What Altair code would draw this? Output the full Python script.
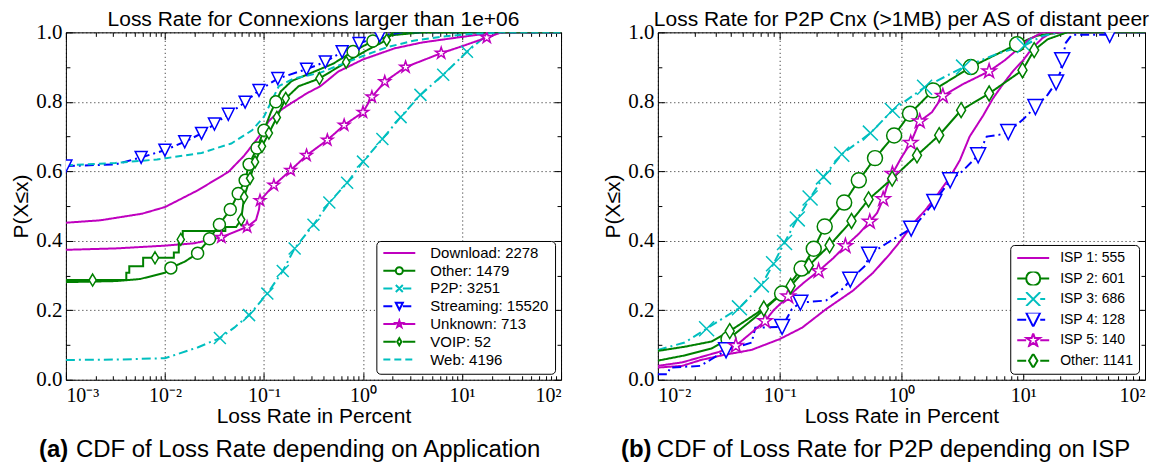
import math
import altair as alt
import pandas as pd

# ---------------------------------------------------------------- data ----
# x values are stored as log10(loss rate in percent), y = P(X<=x)
A_TITLE = "Loss Rate for Connexions larger than 1e+06"
A_TAG = "(a)"
A_CAPTION = "CDF of Loss Rate depending on Application"
A_NAMES = ["Download: 2278", "Other: 1479", "P2P: 3251", "Streaming: 15520",
           "Unknown: 713", "VOIP: 52", "Web: 4196"]

a_download_lx = [-3, -2.65, -2.23, -2.0, -1.67, -1.36, -1.2, -1.05, -0.95, -0.85, -0.78,
                 -0.57, -0.43, -0.25, 0, 0.32, 0.6, 0.9, 1.08, 1.26, 1.45, 2]
a_download_y = [0.452, 0.459, 0.478, 0.497, 0.545, 0.598, 0.645, 0.70, 0.745, 0.772, 0.786,
                0.824, 0.845, 0.887, 0.922, 0.954, 0.971, 0.983, 0.99, 0.997, 1.0, 1.0]
a_download_marks = []

a_other_lx = [-3, -2.5, -2.25, -2.0, -1.94, -1.8, -1.67, -1.55, -1.45, -1.34, -1.26, -1.19, -1.15,
              -1.07, -1.0, -0.93, -0.88, -0.83, -0.72, -0.55, -0.3, -0.1, 0.1, 0.3, 0.6, 2]
a_other_y = [0.281, 0.284, 0.29, 0.308, 0.322, 0.34, 0.364, 0.406, 0.447, 0.49, 0.536, 0.574, 0.62,
             0.667, 0.718, 0.77, 0.80, 0.83, 0.86, 0.88, 0.91, 0.945, 0.975, 0.992, 1.0, 1.0]
a_other_marks = [4, 6, 7, 8, 9, 10, 11, 12, 13, 14, 16, 21, 22]

a_p2p_lx = [-3, -2.5, -2.0, -1.67, -1.445, -1.3, -1.15, -0.966, -0.81, -0.69, -0.5, -0.34, -0.16,
            0.0, 0.196, 0.38, 0.58, 0.81, 1.05, 1.2, 1.33, 2]
a_p2p_y = [0.057, 0.058, 0.062, 0.093, 0.12, 0.15, 0.186, 0.248, 0.313, 0.378, 0.446, 0.51, 0.567,
           0.628, 0.693, 0.756, 0.82, 0.878, 0.944, 0.98, 1.0, 1.0]
a_p2p_marks = [4, 6, 7, 8, 9, 10, 11, 12, 13, 14, 15, 16, 17, 18]

a_streaming_lx = [-3, -2.5, -2.24, -2.0, -1.8, -1.63, -1.5, -1.36, -1.19, -1.05, -0.86, -0.57,
                  -0.38, -0.21, -0.04, 0.17, 0.4, 2]
a_streaming_y = [0.615, 0.62, 0.64, 0.661, 0.685, 0.709, 0.736, 0.764, 0.799, 0.833, 0.867, 0.894,
                 0.915, 0.944, 0.968, 0.99, 1.0, 1.0]
a_streaming_marks = [0, 2, 3, 4, 5, 6, 7, 8, 9, 10, 11, 12, 13, 14, 15]

a_unknown_lx = [-3, -2.5, -2.0, -1.7, -1.43, -1.3, -1.17, -1.08, -1.05, -1.04, -0.9, -0.73, -0.57,
                -0.36, -0.19, 0.0, 0.09, 0.22, 0.43, 0.79, 1.0, 1.25, 1.4, 2]
a_unknown_y = [0.374, 0.378, 0.386, 0.393, 0.41, 0.425, 0.44, 0.46, 0.49, 0.516, 0.56, 0.603, 0.646,
               0.69, 0.733, 0.77, 0.814, 0.858, 0.90, 0.94, 0.96, 0.985, 1.0, 1.0]
a_unknown_marks = [4, 6, 9, 10, 11, 12, 13, 14, 15, 16, 17, 18, 19, 21]

a_voip_lx = [-3, -2.73, -2.39, -2.39, -2.36, -2.36, -2.22, -2.22, -2.1, -1.91, -1.91, -1.86, -1.86,
             -1.84, -1.82, -1.82, -1.39, -1.39, -1.28, -1.23, -1.2, -1.14, -1.09, -1.02, -0.95,
             -0.87, -0.78, -0.65, -0.44, -0.17, 0.05, 0.24, 0.3, 2]
a_voip_y = [0.287, 0.287, 0.287, 0.308, 0.308, 0.327, 0.327, 0.351, 0.351, 0.351, 0.366, 0.366, 0.404,
            0.404, 0.404, 0.428, 0.428, 0.44, 0.44, 0.461, 0.526, 0.58, 0.627, 0.672, 0.71,
            0.755, 0.81, 0.845, 0.867, 0.914, 0.95, 0.978, 1.0, 1.0]
a_voip_marks = [1, 8, 13, 19, 20, 21, 22, 23, 24, 25, 26, 28, 29, 31]

a_web_lx = [-3, -2.5, -2.08, -1.63, -1.33, -1.12, -1.0, -0.91, -0.85, -0.71, -0.43, -0.2, 0.0, 0.24,
            0.51, 0.8, 1.08, 1.4, 2]
a_web_y = [0.617, 0.624, 0.634, 0.653, 0.68, 0.718, 0.757, 0.81, 0.845, 0.866, 0.884, 0.91, 0.932,
           0.957, 0.976, 0.988, 0.995, 1.0, 1.0]
a_web_marks = []

B_TITLE = "Loss Rate for P2P Cnx (>1MB) per AS of distant peer"
B_TAG = "(b)"
B_CAPTION = "CDF of Loss Rate for P2P depending on ISP"
B_NAMES = ["ISP 1: 555", "ISP 2: 601", "ISP 3: 686", "ISP 4: 128", "ISP 5: 140", "Other: 1141"]

b_isp1_lx = [-2, -1.8, -1.645, -1.465, -1.23, -1.0, -0.815, -0.62, -0.4, -0.233, -0.1, 0.0, 0.1, 0.2,
             0.3, 0.4, 0.48, 0.56, 0.67, 0.75, 0.836, 0.92, 1.0, 1.08, 1.16, 1.22, 1.35, 2]
b_isp1_y = [0.035, 0.04, 0.057, 0.071, 0.086, 0.117, 0.15, 0.203, 0.256, 0.308, 0.36, 0.403, 0.451,
            0.49, 0.535, 0.584, 0.632, 0.70, 0.76, 0.809, 0.852, 0.89, 0.92, 0.957, 0.984, 0.997,
            1.0, 1.0]
b_isp1_marks = []

b_isp2_lx = [-2, -1.78, -1.56, -1.42, -1.2, -0.98, -0.82, -0.72, -0.63, -0.47, -0.35, -0.217, -0.06,
             0.07, 0.26, 0.57, 0.95, 1.11, 1.3, 2]
b_isp2_y = [0.055, 0.07, 0.09, 0.117, 0.18, 0.248, 0.32, 0.377, 0.441, 0.51, 0.574, 0.638, 0.703,
            0.766, 0.833, 0.9, 0.966, 0.99, 1.0, 1.0]
b_isp2_marks = [3, 5, 6, 7, 8, 9, 10, 11, 12, 13, 14, 15, 16]

b_isp3_lx = [-2, -1.78, -1.6, -1.33, -1.15, -1.05, -0.96, -0.855, -0.75, -0.64, -0.49, -0.255,
             -0.075, 0.19, 0.51, 0.8, 1.01, 1.16, 1.3, 2]
b_isp3_y = [0.086, 0.107, 0.147, 0.207, 0.273, 0.334, 0.395, 0.463, 0.523, 0.584, 0.649, 0.71,
            0.775, 0.842, 0.9, 0.94, 0.962, 0.99, 1.0, 1.0]
b_isp3_marks = [2, 3, 4, 5, 6, 7, 8, 9, 10, 11, 12, 13, 14, 16]

b_isp4_lx = [-2, -1.92, -1.9, -1.65, -1.56, -1.44, -1.23, -1.2, -0.98, -0.9, -0.83, -0.62, -0.47,
             -0.42, -0.29, -0.265, -0.12, 0.08, 0.15, 0.27, 0.4, 0.5, 0.63, 0.7, 0.8, 0.877, 1.0,
             1.1, 1.2, 1.27, 1.31, 1.32, 1.35, 1.4, 1.71, 1.76, 2]
b_isp4_y = [0.016, 0.016, 0.035, 0.04, 0.059, 0.085, 0.107, 0.15, 0.152, 0.203, 0.222, 0.228, 0.265,
            0.288, 0.331, 0.36, 0.393, 0.435, 0.46, 0.512, 0.574, 0.60, 0.646, 0.70, 0.705, 0.713,
            0.75, 0.785, 0.82, 0.856, 0.89, 0.92, 0.97, 0.993, 0.993, 1.0, 1.0]
b_isp4_marks = [5, 8, 10, 13, 15, 17, 19, 20, 22, 25, 27, 29, 31, 34]

b_isp5_lx = [-2, -1.8, -1.6, -1.5, -1.36, -1.25, -1.12, -1.05, -0.93, -0.8, -0.68, -0.56, -0.46,
             -0.35, -0.26, -0.2, -0.15, -0.12, -0.074, 0.0, 0.076, 0.15, 0.25, 0.34, 0.5, 0.72,
             0.85, 0.95, 1.05, 1.16, 2]
b_isp5_y = [0.04, 0.05, 0.07, 0.08, 0.098, 0.13, 0.169, 0.2, 0.24, 0.28, 0.313, 0.35, 0.385, 0.42,
            0.455, 0.48, 0.52, 0.555, 0.593, 0.64, 0.682, 0.744, 0.77, 0.817, 0.85, 0.888, 0.92,
            0.95, 0.98, 1.0, 1.0]
b_isp5_marks = [4, 6, 8, 10, 12, 14, 16, 18, 20, 21, 23, 25]

b_other_lx = [-2, -1.78, -1.56, -1.41, -1.13, -0.91, -0.76, -0.59, -0.41, -0.27, -0.076, 0.128,
              0.31, 0.49, 0.72, 0.994, 1.09, 1.2, 1.36, 2]
b_other_y = [0.083, 0.095, 0.11, 0.14, 0.205, 0.27, 0.329, 0.387, 0.457, 0.519, 0.579, 0.646,
             0.704, 0.776, 0.824, 0.891, 0.949, 0.98, 1.0, 1.0]
b_other_marks = [3, 4, 5, 6, 7, 8, 9, 10, 11, 12, 13, 14, 15, 16]

A_SERIES = [(a_download_lx, a_download_y, a_download_marks), (a_other_lx, a_other_y, a_other_marks),
            (a_p2p_lx, a_p2p_y, a_p2p_marks), (a_streaming_lx, a_streaming_y, a_streaming_marks),
            (a_unknown_lx, a_unknown_y, a_unknown_marks), (a_voip_lx, a_voip_y, a_voip_marks),
            (a_web_lx, a_web_y, a_web_marks)]
B_SERIES = [(b_isp1_lx, b_isp1_y, b_isp1_marks), (b_isp2_lx, b_isp2_y, b_isp2_marks),
            (b_isp3_lx, b_isp3_y, b_isp3_marks), (b_isp4_lx, b_isp4_y, b_isp4_marks),
            (b_isp5_lx, b_isp5_y, b_isp5_marks), (b_other_lx, b_other_y, b_other_marks)]

# ---------------------------------------------------------------- style ---
MAG, GRN, CYN, BLU = "#bf00bf", "#008000", "#00bfbf", "#0000ff"
SOLID, DASHED, DASHDOT = [1, 0], [7, 4], [9, 4, 2, 4]
A_STYLE = [(MAG, SOLID, None), (GRN, SOLID, "circle"), (CYN, DASHDOT, "x"), (BLU, DASHDOT, "tri"),
           (MAG, SOLID, "star"), (GRN, SOLID, "diamond"), (CYN, DASHED, None)]
B_STYLE = [(MAG, SOLID, None), (GRN, SOLID, "circle"), (CYN, DASHDOT, "x"), (BLU, DASHDOT, "tri"),
           (MAG, SOLID, "star"), (GRN, SOLID, "diamond")]

SANS = "Liberation Sans"
SERIF = "Liberation Serif"
H = 348


def marker_path(kind, s=1.0):
    f = lambda v: f"{v * s:.3f}"
    if kind == "circle":
        return f"M{f(1)},0A{f(1)},{f(1)},0,1,1,{f(-1)},0A{f(1)},{f(1)},0,1,1,{f(1)},0Z"
    if kind == "x":
        return f"M{f(-1)},{f(-1)}L{f(1)},{f(1)}M{f(-1)},{f(1)}L{f(1)},{f(-1)}"
    if kind == "tri":
        return f"M{f(-1)},{f(-1)}L{f(1)},{f(-1)}L0,{f(1)}Z"
    if kind == "diamond":
        return f"M0,{f(-1)}L{f(0.6)},0L0,{f(1)}L{f(-0.6)},0Z"
    if kind == "star":
        pts = []
        for k in range(10):
            ang = -math.pi / 2 + k * math.pi / 5
            rr = 1.0 if k % 2 == 0 else 0.382
            pts.append(f"{rr * s * math.cos(ang):.3f},{rr * s * math.sin(ang):.3f}")
        return "M" + "L".join(pts) + "Z"
    return ""


def legend_path(kind, dash, r, unit=16.0):
    gap = r if kind else 0.0
    pattern = [d / unit for d in dash] if dash != SOLID else [2.0, 0.0]
    segs, pos, k = [], -1.0, 0
    while pos < 1.0:
        ln = pattern[k % len(pattern)]
        if k % 2 == 0 and ln > 0:
            a, b = pos, min(pos + ln, 1.0)
            for lo, hi in ((a, min(b, -gap)), (max(a, gap), b)):
                if hi - lo > 1e-3:
                    segs.append(f"M{lo:.3f},0H{hi:.3f}")
        pos += ln if ln > 0 else 0.01
        k += 1
    return "".join(segs) + (marker_path(kind, r) if kind else "")


def panel(names, series, styles, xmin, width, title, tag, caption, msize, leg_r,
          leg_clip, leg_rowpad, leg_font, leg_laboff, tag_x, cap_x):
    lines, pts = [], []
    for name, (lx, ys, marks) in zip(names, series):
        for i, (a, b) in enumerate(zip(lx, ys)):
            lines.append({"series": name, "i": i, "x": 10 ** a, "y": b})
        for i in marks:
            pts.append({"series": name, "x": 10 ** lx[i], "y": ys[i]})
    line_df, pt_df = pd.DataFrame(lines), pd.DataFrame(pts)
    blank = pd.DataFrame({"series": names, "x": [1.0] * len(names), "y": [0.5] * len(names)})
    one = pd.DataFrame({"k": [0]})

    colors = [s[0] for s in styles]
    dashes = [s[1] for s in styles]
    shapes = [marker_path(s[2]) if s[2] else "circle" for s in styles]
    leg_shapes = [legend_path(s[2], s[1], leg_r) for s in styles]

    xs = alt.Scale(type="log", domain=[10 ** xmin, 100], nice=False)
    ys = alt.Scale(domain=[0, 1], nice=False, zero=False)
    x_major = [10 ** e for e in range(xmin, 3)]
    x_minor = [m * 10 ** e for e in range(xmin, 2) for m in range(2, 10)]
    y_major = [0, 0.2, 0.4, 0.6, 0.8, 1.0]
    y_minor = [0.1, 0.3, 0.5, 0.7, 0.9]

    xaxis = alt.Axis(values=x_major, grid=True, gridColor="black", gridDash=[1, 3], gridWidth=0.9,
                     ticks=False, domain=False, labelFont=SERIF, labelFontSize=20, labelColor="black",
                     labelPadding=6,
                     labelExpr="['10⁻³','10⁻²','10⁻¹','10⁰','10¹','10²'][round(log(datum.value)/LN10)+3]",
                     title="Loss Rate in Percent", titleFont=SANS, titleFontSize=21,
                     titleFontWeight="normal", titleColor="black", titlePadding=0, orient="bottom")
    yaxis = alt.Axis(values=y_major, format=".1f", grid=True, gridColor="black", gridDash=[1, 3],
                     gridWidth=0.9, ticks=False, domain=False, labelFont=SERIF, labelFontSize=21,
                     labelColor="black", labelPadding=4, title="P(X≤x)", titleFont=SANS,
                     titleFontSize=21, titleFontWeight="normal", titleColor="black", titlePadding=4,
                     orient="left")

    cscale = alt.Scale(domain=names, range=colors)
    line_layer = alt.Chart(line_df).mark_line(strokeWidth=2, clip=True).encode(
        x=alt.X("x:Q", scale=xs, axis=xaxis),
        y=alt.Y("y:Q", scale=ys, axis=yaxis),
        color=alt.Color("series:N", scale=cscale, legend=None),
        strokeDash=alt.StrokeDash("series:N", scale=alt.Scale(domain=names, range=dashes), legend=None),
        order=alt.Order("i:Q"),
    )
    pt_layer = alt.Chart(pt_df).mark_point(filled=False, fill="white", fillOpacity=1, opacity=1,
                                           strokeWidth=1.5, size=msize, clip=True).encode(
        x=alt.X("x:Q", scale=xs, axis=None),
        y=alt.Y("y:Q", scale=ys, axis=None),
        color=alt.Color("series:N", scale=cscale, legend=None),
        shape=alt.Shape("series:N", scale=alt.Scale(domain=names, range=shapes), legend=None),
    )
    leg = alt.Legend(title=None, orient="bottom-right", offset=6, fillColor="white",
                     strokeColor="black", cornerRadius=4, padding=6, labelFont=SANS,
                     labelFontSize=leg_font, labelColor="black", symbolSize=1024,
                     symbolStrokeWidth=2, symbolFillColor="white", clipHeight=leg_clip,
                     rowPadding=leg_rowpad, labelOffset=leg_laboff, symbolOpacity=1)
    leg_layer = alt.Chart(blank).mark_point(filled=False, fill="white", opacity=1, strokeWidth=2).encode(
        x=alt.X("x:Q", scale=xs, axis=None),
        y=alt.Y("y:Q", scale=ys, axis=None),
        color=alt.Color("series:N", scale=cscale, legend=leg),
        shape=alt.Shape("series:N", scale=alt.Scale(domain=names, range=leg_shapes), legend=leg),
    ).transform_filter("false")

    def ticks(xv, yv, xo, yo, sz):
        ax = alt.Axis(orient=xo, values=xv, labels=False, domain=False, grid=False, ticks=True,
                      tickSize=sz, offset=-sz, tickColor="black", tickWidth=1, title=None)
        ay = alt.Axis(orient=yo, values=yv, labels=False, domain=False, grid=False, ticks=True,
                      tickSize=sz, offset=-sz, tickColor="black", tickWidth=1, title=None)
        return alt.Chart(blank).mark_point(opacity=0).encode(
            x=alt.X("x:Q", scale=xs, axis=ax), y=alt.Y("y:Q", scale=ys, axis=ay)
        ).transform_filter("false")

    tick_layers = [ticks(x_major, y_major, "bottom", "left", 7), ticks(x_major, y_major, "top", "right", 7),
                   ticks(x_minor, y_minor, "bottom", "left", 4), ticks(x_minor, y_minor, "top", "right", 4)]

    cap1 = alt.Chart(one).mark_text(text=tag, font=SANS, fontSize=24, fontWeight="bold", align="left",
                                    baseline="alphabetic", color="black").encode(
        x=alt.value(tag_x), y=alt.value(H + 77))
    cap2 = alt.Chart(one).mark_text(text=caption, font=SANS, fontSize=24, align="left",
                                    baseline="alphabetic", color="black").encode(
        x=alt.value(cap_x), y=alt.value(H + 77))

    return alt.layer(line_layer, pt_layer, leg_layer, *tick_layers, cap1, cap2).resolve_scale(
        color="independent", shape="independent"
    ).resolve_axis(x="independent", y="independent").properties(
        width=width, height=H,
        title=alt.TitleParams(text=title, font=SANS, fontSize=21, fontWeight="normal", color="black",
                              anchor="middle", frame="group", offset=-9))


left = panel(A_NAMES, A_SERIES, A_STYLE, -3, 496, A_TITLE, A_TAG, A_CAPTION, 144, 0.22, 12, 2.8, 15, 14,
             -27, 10)
right = panel(B_NAMES, B_SERIES, B_STYLE, -2, 488, B_TITLE, B_TAG, B_CAPTION, 225, 0.44, 14, 6.6, 14, 10,
              -37, -1)

chart = alt.hconcat(left, right, spacing=97, bounds="flush").resolve_scale(
    color="independent", shape="independent", strokeDash="independent"
).properties(padding={"left": 2, "top": 0, "right": 0, "bottom": 0}).configure_view(
    stroke="black", strokeWidth=1
)

chart.save("out.html", embed_options={"renderer": "svg", "actions": False})
